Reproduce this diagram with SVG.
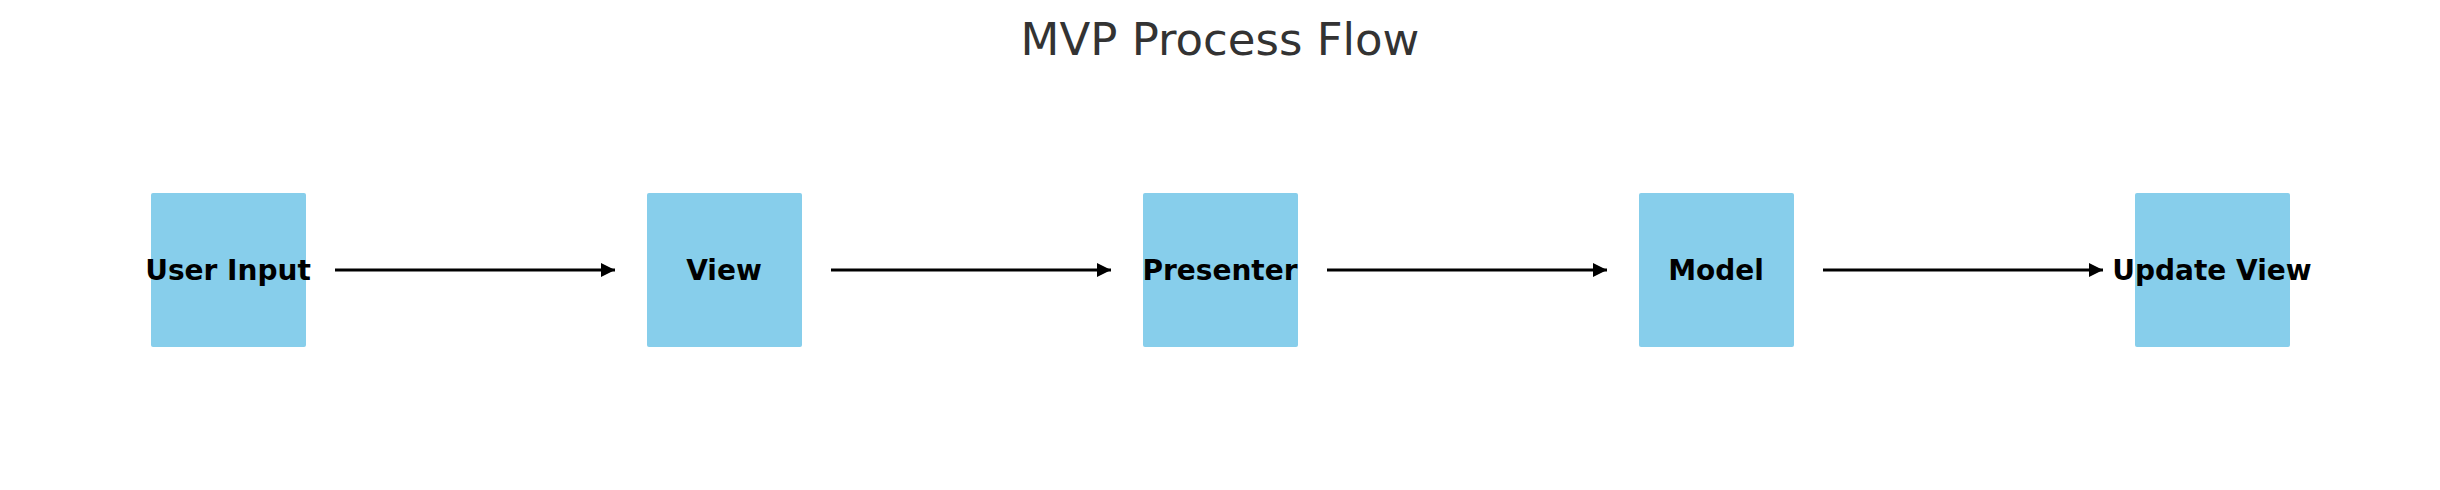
<svg xmlns="http://www.w3.org/2000/svg" width="2440" height="490" viewBox="0 0 2440 490">
<style>
.box{fill:#87CEEB;}
.lbl{font-family:"DejaVu Sans",sans-serif;font-weight:bold;font-size:28px;fill:#000;text-anchor:middle;}
.title{font-family:"DejaVu Sans",sans-serif;font-size:45px;fill:#333333;text-anchor:middle;}
.conn{stroke:#000;stroke-width:3;fill:none;marker-end:url(#arr);}
</style>
<defs>
<marker id="arr" markerUnits="userSpaceOnUse" markerWidth="16" markerHeight="16" refX="15" refY="8" orient="auto">
<path d="M1,1 L15,8 L1,15 Z" fill="#000"/>
</marker>
</defs>
<rect width="2440" height="490" fill="#fff"/>
<text class="title" x="1220" y="55">MVP Process Flow</text>
<g id="connectors">
<line class="conn" x1="335" y1="270" x2="615" y2="270"/>
<line class="conn" x1="831" y1="270" x2="1111" y2="270"/>
<line class="conn" x1="1327" y1="270" x2="1607" y2="270"/>
<line class="conn" x1="1823" y1="270" x2="2103" y2="270"/>
</g>
<g id="node-user-input"><rect class="box" x="151" y="193" width="155" height="154" rx="2"/><text class="lbl" x="228" y="280">User Input</text></g>
<g id="node-view"><rect class="box" x="647" y="193" width="155" height="154" rx="2"/><text class="lbl" x="724" y="280">View</text></g>
<g id="node-presenter"><rect class="box" x="1143" y="193" width="155" height="154" rx="2"/><text class="lbl" x="1220" y="280">Presenter</text></g>
<g id="node-model"><rect class="box" x="1639" y="193" width="155" height="154" rx="2"/><text class="lbl" x="1716" y="280">Model</text></g>
<g id="node-update-view"><rect class="box" x="2135" y="193" width="155" height="154" rx="2"/><text class="lbl" x="2212" y="280">Update View</text></g>
</svg>
